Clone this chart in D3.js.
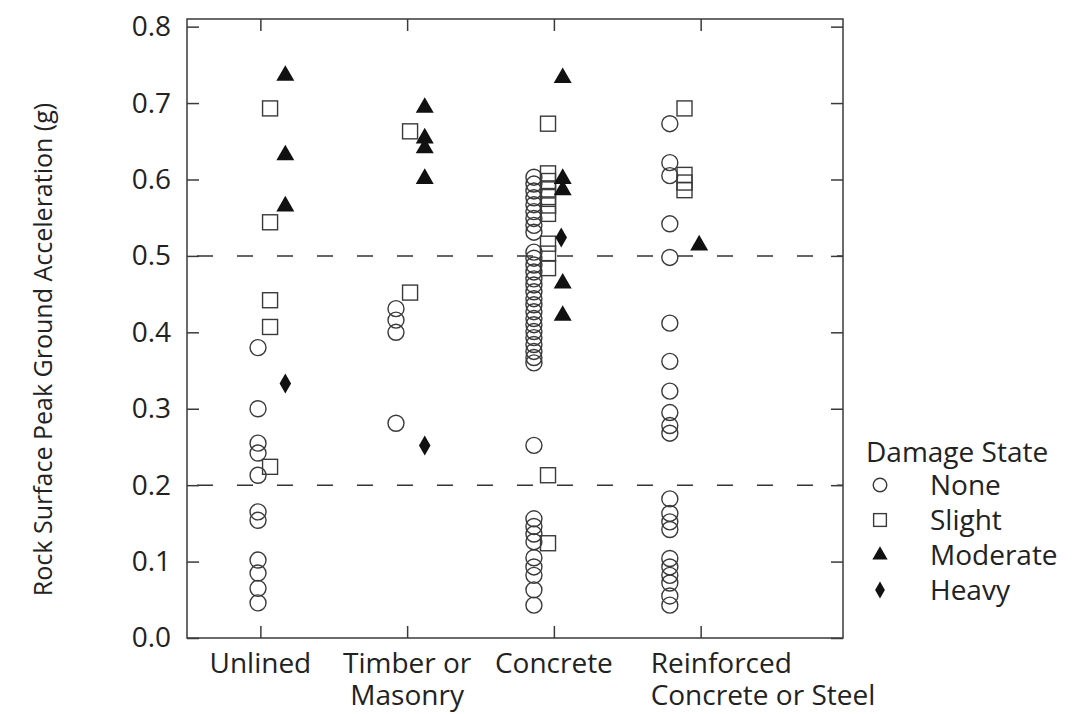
<!DOCTYPE html>
<html>
<head>
<meta charset="utf-8">
<script src="https://cdn.jsdelivr.net/npm/d3@7"></script>
<style>
  body { margin: 0; background: #fff; }
  text { font-family: "Open Sans", "Noto Sans", sans-serif; fill: #222; }
</style>
</head>
<body>
<svg id="chart" width="1082" height="714"></svg>
<script>
// categories along the x axis
var categories = ['Unlined', 'Timber or Masonry', 'Concrete', 'Reinforced Concrete or Steel'];
var categoryLabels = [['Unlined'], ['Timber or', 'Masonry'], ['Concrete'], ['Reinforced', 'Concrete or Steel']];
var yTicks = [0, 0.1, 0.2, 0.3, 0.4, 0.5, 0.6, 0.7, 0.8];
var thresholds = [0.2, 0.5];

// peak ground acceleration (g) per damage state, one list per category
var noneValues = [
  [0.380, 0.300, 0.255, 0.242, 0.213, 0.165, 0.154, 0.102, 0.085, 0.065, 0.046],
  [0.431, 0.416, 0.400, 0.281],
  [0.603, 0.594, 0.585, 0.576, 0.567, 0.558, 0.549, 0.540, 0.531,
   0.505, 0.497, 0.488, 0.479, 0.470, 0.462, 0.453, 0.444, 0.436, 0.427,
   0.418, 0.410, 0.401, 0.393, 0.384, 0.375, 0.367, 0.360,
   0.252, 0.156, 0.146, 0.136, 0.126, 0.105, 0.093, 0.082, 0.063, 0.043],
  [0.673, 0.622, 0.605, 0.542, 0.498, 0.412, 0.362, 0.323, 0.295, 0.278, 0.268,
   0.182, 0.163, 0.152, 0.142, 0.104, 0.093, 0.082, 0.072, 0.055, 0.043]
];
var slightValues = [
  [0.693, 0.544, 0.442, 0.407, 0.224],
  [0.663, 0.452],
  [0.673, 0.608, 0.598, 0.587, 0.577, 0.566, 0.555, 0.516, 0.503, 0.484, 0.213, 0.124],
  [0.693, 0.606, 0.596, 0.586]
];
var moderateValues = [
  [0.736, 0.632, 0.565],
  [0.694, 0.654, 0.641, 0.601],
  [0.733, 0.601, 0.586, 0.464, 0.422],
  [0.514]
];
var heavyValues = [
  [0.333],
  [0.252],
  [0.524],
  []
];

var states = ['None', 'Slight', 'Moderate', 'Heavy'];
var stateValues = [noneValues, slightValues, moderateValues, heavyValues];
// horizontal shift of each damage state inside a category (x units)
var stateOffsets = [
  [-0.016, -0.076, -0.136, -0.21],
  [0.066, 0.02, -0.04, -0.11],
  [0.17, 0.12, 0.06, -0.01],
  [0.17, 0.12, 0.05, 0]
];

(function () {
  var svg = d3.select('#chart');
  var plotLeft = 187, plotRight = 843, plotTop = 19, plotBottom = 638;
  var labelSize = '28px';

  var x = d3.scaleLinear().domain([0.5, 4.97]).range([plotLeft, plotRight]);
  var y = d3.scaleLinear().domain([0, 0.81]).range([plotBottom, plotTop]);

  var ink = '#3a3a3a';

  // threshold dashed lines
  svg.selectAll('.threshold')
    .data(thresholds)
    .enter()
    .append('line')
    .attr('x1', plotLeft).attr('x2', plotRight)
    .attr('y1', function (d) { return y(d); })
    .attr('y2', function (d) { return y(d); })
    .attr('stroke', '#333')
    .attr('stroke-width', 1.5)
    .attr('stroke-dasharray', '16,24')
    .attr('stroke-dashoffset', 30);

  // axes: ticks pointing inward on all four sides
  var tickLen = 12;
  var yLeft = d3.axisLeft(y).tickValues(yTicks).tickFormat(d3.format('.1f'))
    .tickSizeInner(-tickLen).tickSizeOuter(0).tickPadding(16);
  var yRight = d3.axisRight(y).tickValues(yTicks).tickFormat('')
    .tickSizeInner(-tickLen).tickSizeOuter(0);
  var xBottom = d3.axisBottom(x).tickValues([1, 2, 3, 4]).tickFormat('')
    .tickSizeInner(-tickLen).tickSizeOuter(0);
  var xTop = d3.axisTop(x).tickValues([1, 2, 3, 4]).tickFormat('')
    .tickSizeInner(-tickLen).tickSizeOuter(0);

  var gl = svg.append('g').attr('transform', 'translate(' + plotLeft + ',0)').call(yLeft);
  svg.append('g').attr('transform', 'translate(' + plotRight + ',0)').call(yRight);
  svg.append('g').attr('transform', 'translate(0,' + plotBottom + ')').call(xBottom);
  svg.append('g').attr('transform', 'translate(0,' + plotTop + ')').call(xTop);

  svg.selectAll('.domain').remove();
  svg.selectAll('.tick line').attr('stroke', ink).attr('stroke-width', 1.5);
  gl.selectAll('.tick text')
    .style('font-size', labelSize)
    .style('font-family', '"Open Sans", "Noto Sans", sans-serif')
    .attr('fill', '#222');

  svg.append('rect')
    .attr('x', plotLeft).attr('y', plotTop)
    .attr('width', plotRight - plotLeft).attr('height', plotBottom - plotTop)
    .attr('fill', 'none')
    .attr('stroke', ink)
    .attr('stroke-width', 1.5);

  // category labels
  categoryLabels.forEach(function (lines, i) {
    var wide = i === 3;
    var t = svg.append('text')
      .attr('text-anchor', wide ? 'start' : 'middle')
      .style('font-size', labelSize);
    lines.forEach(function (line, k) {
      t.append('tspan')
        .attr('x', wide ? x(i + 1) - 50 : x(i + 1))
        .attr('y', 673 + k * 32)
        .text(line);
    });
  });

  // y axis title
  svg.append('text')
    .attr('transform', 'translate(52,' + ((plotTop + plotBottom) / 2 + 21) + ') rotate(-90)')
    .attr('text-anchor', 'middle')
    .style('font-size', '25px')
    .text('Rock Surface Peak Ground Acceleration (g)');

  // marker shapes
  function marker(sel, state, scale) {
    scale = scale || 1;
    if (state === 0) {
      sel.append('circle').attr('r', 8 * scale)
        .attr('fill', 'none').attr('stroke', ink).attr('stroke-width', 1.4);
    } else if (state === 1) {
      sel.append('rect')
        .attr('x', -7.5 * scale).attr('y', -7.5 * scale)
        .attr('width', 15 * scale).attr('height', 15 * scale)
        .attr('fill', 'none').attr('stroke', ink).attr('stroke-width', 1.4);
    } else if (state === 2) {
      sel.append('path')
        .attr('d', d3.symbol(d3.symbolTriangle, 140 * scale * scale)())
        .attr('fill', '#111');
    } else {
      sel.append('path')
        .attr('d', d3.symbol(d3.symbolDiamond, 115 * scale * scale)())
        .attr('fill', '#111');
    }
  }

  stateValues.forEach(function (byCategory, s) {
    byCategory.forEach(function (values, c) {
      values.forEach(function (v) {
        var g = svg.append('g')
          .attr('transform', 'translate(' + x(c + 1 + stateOffsets[s][c]) + ',' + y(v) + ')');
        marker(g, s);
      });
    });
  });

  // legend
  var legend = svg.append('g').attr('transform', 'translate(866,452)');
  legend.append('text')
    .attr('x', 0).attr('y', 10)
    .style('font-size', labelSize)
    .text('Damage State');
  states.forEach(function (name, i) {
    var row = legend.append('g').attr('transform', 'translate(14,' + (33 + i * 35) + ')');
    marker(row, i, 0.85);
    row.append('text')
      .attr('x', 50).attr('y', 10)
      .style('font-size', labelSize)
      .text(name);
  });
}());
</script>
</body>
</html>
